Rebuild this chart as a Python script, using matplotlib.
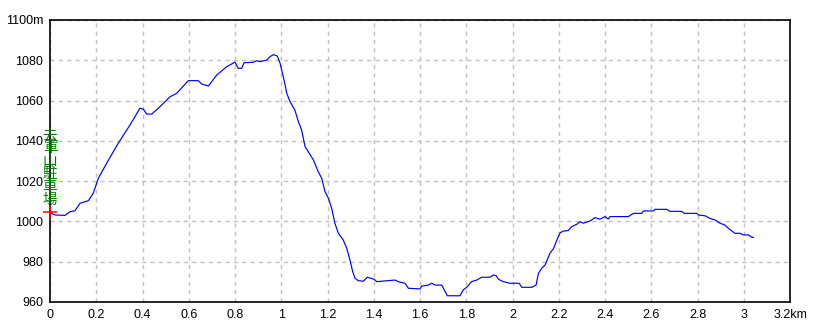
import matplotlib
matplotlib.use('Agg')
import matplotlib.pyplot as plt

# Elevation profile (distance in km, elevation in m)
dist_km = [0.0, 0.022, 0.065, 0.086, 0.108, 0.13, 0.166, 0.187, 0.209, 0.245,
           0.295, 0.346, 0.389, 0.404, 0.418, 0.44, 0.476, 0.519, 0.548, 0.598,
           0.641, 0.656, 0.685, 0.721, 0.764, 0.80, 0.814, 0.829, 0.839, 0.879,
           0.894, 0.908, 0.937, 0.951, 0.966, 0.983, 0.995, 1.012, 1.024, 1.038,
           1.059, 1.074, 1.088, 1.103, 1.117, 1.139, 1.16, 1.175, 1.189, 1.204,
           1.218, 1.232, 1.247, 1.268, 1.283, 1.297, 1.309, 1.319, 1.333, 1.355,
           1.372, 1.387, 1.401, 1.413, 1.492, 1.506, 1.535, 1.55, 1.6, 1.607,
           1.636, 1.651, 1.665, 1.694, 1.718, 1.773, 1.787, 1.802, 1.823, 1.845,
           1.867, 1.903, 1.917, 1.929, 1.939, 1.96, 1.989, 2.029, 2.04, 2.083,
           2.102, 2.112, 2.126, 2.141, 2.162, 2.177, 2.192, 2.206, 2.22, 2.241,
           2.256, 2.278, 2.292, 2.306, 2.335, 2.357, 2.378, 2.4, 2.414, 2.422,
           2.501, 2.523, 2.559, 2.566, 2.609, 2.616, 2.667, 2.681, 2.732, 2.742,
           2.797, 2.804, 2.833, 2.854, 2.876, 2.897, 2.919, 2.933, 2.962, 2.984,
           2.998, 3.02, 3.035, 3.042]
elev_m = [1004.3, 1003.2, 1003.0, 1004.8, 1005.3, 1009.0, 1010.3, 1014.0, 1021.4, 1028.9,
          1038.8, 1047.9, 1056.2, 1055.7, 1053.3, 1053.3, 1057.0, 1061.9, 1063.6, 1069.9,
          1069.9, 1068.2, 1067.2, 1072.7, 1076.8, 1079.1, 1076.0, 1076.0, 1078.8, 1079.0,
          1079.8, 1079.3, 1080.1, 1081.8, 1082.8, 1082.1, 1078.5, 1070.2, 1063.6, 1059.4,
          1055.3, 1049.5, 1045.4, 1037.1, 1034.6, 1030.5, 1024.7, 1021.4, 1014.8, 1011.5,
          1006.5, 999.1, 994.1, 990.8, 986.7, 980.9, 975.0, 971.8, 970.6, 970.3,
          972.3, 971.8, 971.3, 970.1, 970.9, 970.1, 969.3, 966.8, 966.5, 967.9,
          968.4, 969.3, 968.4, 968.4, 963.1, 963.1, 966.0, 967.3, 970.1, 970.9,
          972.3, 972.3, 973.4, 973.1, 971.3, 970.1, 969.3, 969.3, 967.3, 967.3,
          968.4, 974.2, 976.7, 978.4, 984.2, 986.5, 990.8, 994.4, 995.2, 995.5,
          997.4, 998.6, 999.9, 999.1, 1000.2, 1001.9, 1001.1, 1002.4, 1001.2, 1002.4,
          1002.4, 1004.0, 1004.0, 1005.2, 1005.2, 1006.0, 1006.0, 1005.0, 1005.0, 1004.0,
          1004.0, 1003.2, 1002.8, 1001.5, 1000.7, 999.1, 998.2, 996.6, 994.1, 994.1,
          993.3, 993.3, 992.1, 992.1]

# Waypoint at the start
wp_km = [0.0]
wp_elev = [1004.5]
wp_name = ['去軍山駐車場']

x_ticks = [0, 0.2, 0.4, 0.6, 0.8, 1, 1.2, 1.4, 1.6, 1.8, 2, 2.2, 2.4, 2.6, 2.8, 3, 3.2]
x_labels = ['0', '0.2', '0.4', '0.6', '0.8', '1', '1.2', '1.4', '1.6', '1.8', '2',
            '2.2', '2.4', '2.6', '2.8', '3', '3.2km']
y_ticks = [960, 980, 1000, 1020, 1040, 1060, 1080, 1100]
y_labels = ['960', '980', '1000', '1020', '1040', '1060', '1080', '1100m']

fig = plt.figure(figsize=(8.3, 3.32), dpi=100)
ax = fig.add_axes([50 / 830, 30 / 332, 740 / 830, 282 / 332])

ax.plot(dist_km, elev_m, color='#0000ff', linewidth=0.85, zorder=3)
ax.plot(wp_km, wp_elev, marker='+', color='#ff0000', markersize=10,
        markeredgewidth=1.1, linestyle='none', zorder=4, clip_on=False)

for km, el, name in zip(wp_km, wp_elev, wp_name):
    ax.annotate('\n'.join(name), xy=(km, el), xytext=(0, 4), textcoords='offset points',
                ha='center', va='bottom', color='#008000', fontsize=10.5,
                family=['Noto Sans CJK JP', 'DejaVu Sans'], linespacing=0.9,
                annotation_clip=False, zorder=5)

ax.set_xlim(0, 3.2)
ax.set_ylim(960, 1100)
ax.set_xticks(x_ticks)
ax.set_xticklabels(x_labels)
ax.set_yticks(y_ticks)
ax.set_yticklabels(y_labels)
ax.tick_params(length=0, pad=5, labelsize=9)
for lab in ax.get_xticklabels() + ax.get_yticklabels():
    lab.set_family('Liberation Sans')

ax.grid(True, color='#c0c0c0', linestyle=(0, (3, 3)), linewidth=1.0)
for sp in ax.spines.values():
    sp.set_linewidth(1.2)
    sp.set_color('black')

fig.savefig('out.png', dpi=100)
